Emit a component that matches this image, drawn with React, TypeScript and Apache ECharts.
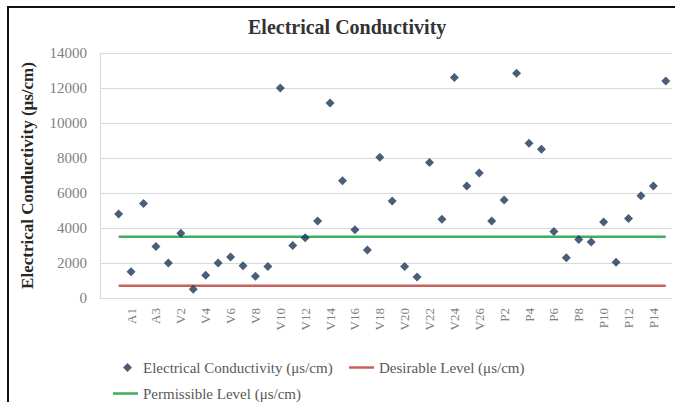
import { useEffect, useRef } from "react";
import * as echarts from "echarts";

// Category axis (first band is empty in the reference; labels every other one)
const categories = [
  "", "A0", "A1", "A2", "A3",
  "V1", "V2", "V3", "V4", "V5", "V6", "V7", "V8", "V9", "V10",
  "V11", "V12", "V13", "V14", "V15", "V16", "V17", "V18", "V19", "V20",
  "V21", "V22", "V23", "V24", "V25", "V26",
  "P1", "P2", "P3", "P4", "P5", "P6", "P7", "P8", "P9", "P10",
  "P11", "P12", "P13", "P14", "P15",
];

// Electrical conductivity (μs/cm) per sample
const conductivity: (number | null)[] = [
  null,
  4800, 1500, 5400, 2950, 2000, 3700, 500, 1300, 2000, 2350,
  1850, 1250, 1800, 12000, 3000, 3450, 4400, 11150, 6700, 3900,
  2750, 8050, 5550, 1800, 1200, 7750, 4500, 12600, 6400, 7150,
  4400, 5600, 12850, 8850, 8500, 3800, 2300, 3350, 3200, 4350,
  2050, 4550, 5850, 6400, 12400,
];

const DESIRABLE_LEVEL = 700;
const PERMISSIBLE_LEVEL = 3500;

const Y_MIN = 0;
const Y_MAX = 14000;
const Y_INTERVAL = 2000;

const SERIES_EC = "Electrical Conductivity (μs/cm)";
const SERIES_DES = "Desirable Level (μs/cm)";
const SERIES_PER = "Permissible Level (μs/cm)";

const SERIF = "'Liberation Serif', 'Times New Roman', serif";

const RED = "#c9605c";
const GREEN = "#3fae5e";
const NAVY = "#1d3557";

export default function App() {
  const ref = useRef<HTMLDivElement>(null);

  useEffect(() => {
    if (!ref.current) return;
    const chart = echarts.init(ref.current, null, { renderer: "svg" });

    const desirable = conductivity.map((v) => (v === null ? null : DESIRABLE_LEVEL));
    const permissible = conductivity.map((v) => (v === null ? null : PERMISSIBLE_LEVEL));

    const legendText = { fontFamily: SERIF, fontSize: 15, color: "#595959" };

    chart.setOption({
      animation: false,
      backgroundColor: "#ffffff",
      title: {
        text: "Electrical Conductivity",
        left: 243,
        top: 12,
        textStyle: { fontFamily: SERIF, fontSize: 20, fontWeight: "bold", color: "#333333" },
      },
      graphic: [
        { type: "rect", shape: { x: 7, y: 6, width: 668, height: 2 }, style: { fill: "#111" } },
        { type: "rect", shape: { x: 7, y: 6, width: 2, height: 396 }, style: { fill: "#111" } },
      ],
      legend: [
        {
          data: [{ name: SERIES_EC, icon: "diamond" }],
          left: 118,
          top: 355,
          itemWidth: 9,
          itemHeight: 9,
          textStyle: { ...legendText, padding: [0, 0, 0, 6] },
        },
        {
          data: [{ name: SERIES_DES, icon: "rect" }],
          left: 344,
          top: 355,
          itemWidth: 25,
          itemHeight: 2.5,
          itemStyle: { color: RED },
          textStyle: legendText,
        },
        {
          data: [{ name: SERIES_PER, icon: "rect" }],
          left: 108,
          top: 381,
          itemWidth: 25,
          itemHeight: 2.5,
          itemStyle: { color: GREEN },
          textStyle: legendText,
        },
      ],
      grid: { left: 100, right: 3, top: 53, bottom: 104 },
      xAxis: {
        type: "category",
        data: categories,
        boundaryGap: true,
        axisLine: { show: true, lineStyle: { color: "#d9d9d9", width: 1 } },
        axisTick: { show: false },
        axisLabel: {
          interval: 1,
          rotate: 90,
          margin: 10,
          fontFamily: SERIF,
          fontSize: 13,
          color: "#7f7f7f",
        },
        splitLine: { show: false },
      },
      yAxis: {
        type: "value",
        min: Y_MIN,
        max: Y_MAX,
        interval: Y_INTERVAL,
        name: "Electrical Conductivity (μs/cm)",
        nameLocation: "middle",
        nameGap: 64,
        nameTextStyle: { fontFamily: SERIF, fontSize: 17, fontWeight: "bold", color: "#262626" },
        axisLine: { show: true, lineStyle: { color: "#d9d9d9", width: 1 } },
        axisTick: { show: false },
        axisLabel: {
          margin: 13,
          fontFamily: SERIF,
          fontSize: 15,
          color: "#7f7f7f",
          formatter: (v: number) => String(v),
        },
        splitLine: { show: true, lineStyle: { color: "#d9d9d9", width: 1 } },
      },
      series: [
        {
          name: SERIES_DES,
          type: "line",
          data: desirable,
          symbol: "none",
          lineStyle: { color: RED, width: 2.5 },
          itemStyle: { color: RED },
          z: 2,
        },
        {
          name: SERIES_PER,
          type: "line",
          data: permissible,
          symbol: "none",
          lineStyle: { color: GREEN, width: 2.5 },
          itemStyle: { color: GREEN },
          z: 2,
        },
        {
          name: SERIES_EC,
          type: "scatter",
          data: conductivity,
          symbol: "diamond",
          symbolSize: 9,
          itemStyle: { color: NAVY },
          z: 5,
        },
      ],
    });

    return () => chart.dispose();
  }, []);

  return (
    <div
      ref={ref}
      style={{ position: "absolute", left: 0, top: 0, width: 675, height: 402, background: "#fff" }}
    />
  );
}
